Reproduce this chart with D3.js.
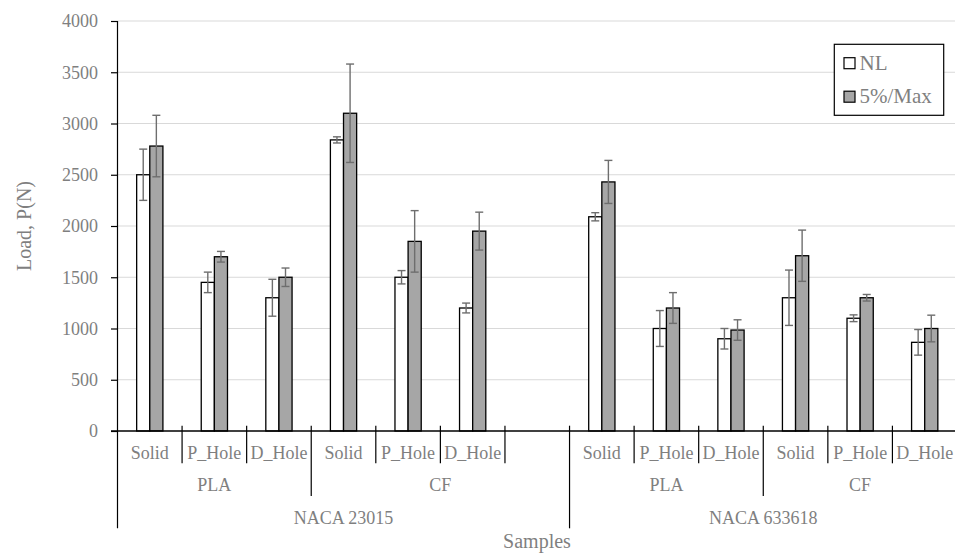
<!DOCTYPE html>
<html>
<head>
<meta charset="utf-8">
<script src="https://cdn.jsdelivr.net/npm/d3@7/dist/d3.min.js"></script>
<style>
  html, body { margin: 0; padding: 0; background: #fff; }
  svg { display: block; }
  svg text { font-family: "Liberation Serif", "Times New Roman", "DejaVu Serif", serif !important; fill: #7f7f7f; }
</style>
</head>
<body>
<svg id="chart" width="955" height="559"></svg>
<script>
// ---- data ----
const subLabels = ["Solid","P_Hole","D_Hole","Solid","P_Hole","D_Hole","","Solid","P_Hole","D_Hole","Solid","P_Hole","D_Hole"];
const materialGroups = [
  {label: "PLA", start: 0, end: 3},
  {label: "CF", start: 3, end: 7},
  {label: "PLA", start: 7, end: 10},
  {label: "CF", start: 10, end: 13}
];
const profileGroups = [
  {label: "NACA 23015", start: 0, end: 7},
  {label: "NACA 633618", start: 7, end: 13}
];
const seriesNames = ["NL", "5%/Max"];
const nlValues  = [2500, 1450, 1300, 2840, 1500, 1200, null, 2090, 1000, 900, 1300, 1100, 865];
const nlErrors  = [250, 100, 180, 30, 65, 48, null, 40, 175, 100, 270, 33, 125];
const maxValues = [2780, 1700, 1500, 3100, 1850, 1950, null, 2430, 1200, 985, 1710, 1300, 1000];
const maxErrors = [300, 52, 90, 480, 300, 185, null, 210, 150, 100, 250, 32, 130];
const yTicks = [0, 500, 1000, 1500, 2000, 2500, 3000, 3500, 4000];

// ---- layout ----
const FONT = "'Liberation Serif','Times New Roman','DejaVu Serif',serif";
const svg = d3.select("#chart").attr("font-family", FONT);
const pLeft = 117.5, pRight = 957, pTop = 21, pBottom = 431;
const fills = {"NL": "#ffffff", "5%/Max": "#a6a6a6"};

const x = d3.scaleBand().domain(d3.range(subLabels.length)).range([pLeft, pRight]).paddingInner(0).paddingOuter(0);
const xs = d3.scaleBand().domain(seriesNames).range([0, x.bandwidth()]).paddingInner(0).paddingOuter(1.46);
const y = d3.scaleLinear().domain([0, 4000]).range([pBottom, pTop]);

// gridlines
svg.append("g").selectAll("line").data(yTicks.filter(d => d > 0)).join("line")
  .attr("x1", pLeft).attr("x2", 955)
  .attr("y1", d => y(d)).attr("y2", d => y(d))
  .attr("stroke", "#d9d9d9").attr("stroke-width", 1.2);

// y axis
const yAxis = d3.axisLeft(y).tickValues(yTicks).tickSize(6.5).tickPadding(13).tickFormat(d3.format("d"));
const gy = svg.append("g").attr("transform", `translate(${pLeft},0)`).call(yAxis)
  .attr("font-family", FONT).attr("font-size", 18);
gy.select(".domain").remove();
gy.selectAll(".tick line").attr("stroke", "#000").attr("stroke-width", 1.2);
gy.selectAll(".tick text").style("font-size", "18px").attr("fill", "#7f7f7f");
svg.append("line").attr("x1", pLeft).attr("x2", pLeft).attr("y1", pTop).attr("y2", 528.3)
  .attr("stroke", "#000").attr("stroke-width", 1.2);

// bars
const rows = [];
subLabels.forEach((c, i) => {
  if (nlValues[i] != null) rows.push({i, s: "NL", v: nlValues[i], e: nlErrors[i]});
  if (maxValues[i] != null) rows.push({i, s: "5%/Max", v: maxValues[i], e: maxErrors[i]});
});
const gb = svg.append("g");
gb.selectAll("rect").data(rows).join("rect")
  .attr("x", d => x(d.i) + xs(d.s))
  .attr("width", xs.bandwidth())
  .attr("y", d => y(d.v))
  .attr("height", d => y(0) - y(d.v))
  .attr("fill", d => fills[d.s])
  .attr("stroke", "#000").attr("stroke-width", 1.3);

// error bars
const ge = svg.append("g").attr("stroke", "#6e6e6e").attr("stroke-width", 1.4);
rows.forEach(d => {
  const cx = x(d.i) + xs(d.s) + xs.bandwidth() / 2;
  ge.append("line").attr("x1", cx).attr("x2", cx).attr("y1", y(d.v + d.e)).attr("y2", y(d.v - d.e));
  ge.append("line").attr("x1", cx - 4).attr("x2", cx + 4).attr("y1", y(d.v + d.e)).attr("y2", y(d.v + d.e));
  ge.append("line").attr("x1", cx - 4).attr("x2", cx + 4).attr("y1", y(d.v - d.e)).attr("y2", y(d.v - d.e));
});

// x baseline
svg.append("line").attr("x1", 111).attr("x2", 955).attr("y1", y(0)).attr("y2", y(0))
  .attr("stroke", "#000").attr("stroke-width", 1.3);

// multi-level category axis
const gx = svg.append("g");
const boundaryDepth = b => {
  if (profileGroups.some(g => g.start === b)) return 528.3;
  if (materialGroups.some(g => g.start === b)) return 496;
  return 463.3;
};
d3.range(1, subLabels.length + 1).forEach(b => {
  const bx = b < subLabels.length ? x(b) : pRight;
  gx.append("line").attr("x1", bx).attr("x2", bx).attr("y1", 425.7).attr("y2", boundaryDepth(b))
    .attr("stroke", "#000").attr("stroke-width", 1.2);
});
gx.selectAll("text.sub").data(subLabels).join("text").attr("class", "sub")
  .attr("x", (d, i) => x(i) + x.bandwidth() / 2).attr("y", 459)
  .attr("text-anchor", "middle").style("font-size", "18px").text(d => d);
const groupCenter = g => (x(g.start) + (g.end < subLabels.length ? x(g.end) : pRight)) / 2;
gx.selectAll("text.mat").data(materialGroups).join("text").attr("class", "mat")
  .attr("x", groupCenter).attr("y", 491.3)
  .attr("text-anchor", "middle").style("font-size", "18px").text(d => d.label);
gx.selectAll("text.prof").data(profileGroups).join("text").attr("class", "prof")
  .attr("x", groupCenter).attr("y", 524)
  .attr("text-anchor", "middle").style("font-size", "18px").text(d => d.label);

// axis titles
svg.append("text").attr("x", 537).attr("y", 548).attr("text-anchor", "middle")
  .style("font-size", "20px").text("Samples");
svg.append("text").attr("transform", "translate(31,226) rotate(-90)").attr("text-anchor", "middle")
  .style("font-size", "20px").text("Load, P(N)");

// legend
const lg = svg.append("g");
lg.append("rect").attr("x", 834.3).attr("y", 44.3).attr("width", 109.4).attr("height", 71)
  .attr("fill", "#fff").attr("stroke", "#000").attr("stroke-width", 1.2);
seriesNames.forEach((s, k) => {
  const yy = 57.7 + k * 33.5;
  lg.append("rect").attr("x", 844).attr("y", yy).attr("width", 11).attr("height", 11)
    .attr("fill", fills[s]).attr("stroke", "#000").attr("stroke-width", 1.2);
  lg.append("text").attr("x", 859.5).attr("y", yy + 12).style("font-size", "21px").text(s);
});
</script>
</body>
</html>
